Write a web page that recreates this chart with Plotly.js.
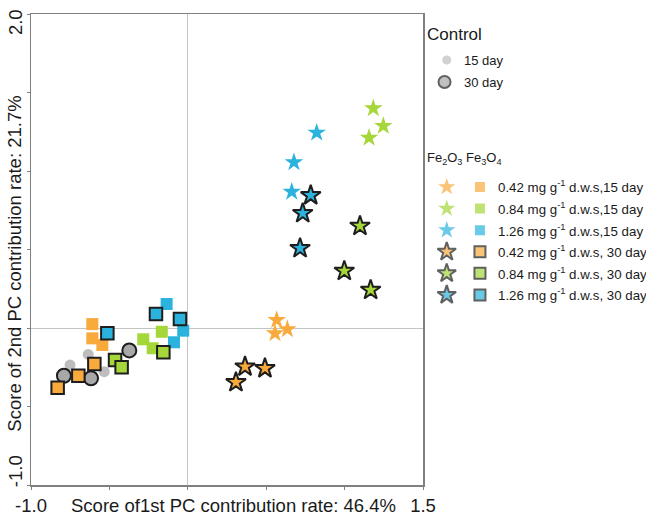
<!DOCTYPE html>
<html>
<head>
<meta charset="utf-8">
<script src="https://cdn.plot.ly/plotly-3.0.1.min.js"></script>
<style>html,body{margin:0;padding:0;background:#fff;}#chart{width:646px;height:517px;}</style>
</head>
<body>
<div id="chart"></div>
<script>
// ---- data (PC1, PC2 scores) ----
const ctrl15X = [-0.635, -0.751, -0.533];
const ctrl15Y = [-0.168, -0.236, -0.278];
const ctrl30X = [-0.790, -0.617, -0.373];
const ctrl30Y = [-0.304, -0.320, -0.143];

// Fe3O4 (squares)
const sq042d15X = [-0.609, -0.609, -0.545];
const sq042d15Y = [0.025, -0.066, -0.108];
const sq084d15X = [-0.284, -0.166, -0.224];
const sq084d15Y = [-0.072, -0.024, -0.129];
const sq126d15X = [-0.135, -0.029, -0.088];
const sq126d15Y = [0.153, -0.017, -0.091];
const sq042d30X = [-0.596, -0.698, -0.830];
const sq042d30Y = [-0.229, -0.304, -0.380];
const sq084d30X = [-0.464, -0.422, -0.156];
const sq084d30Y = [-0.204, -0.250, -0.155];
const sq126d30X = [-0.203, -0.050, -0.513];
const sq126d30Y = [0.089, 0.057, -0.034];

// Fe2O3 (stars)
const st042d15X = [0.567, 0.635, 0.556];
const st042d15Y = [0.051, -0.008, -0.034];
const st084d15X = [1.183, 1.247, 1.156];
const st084d15Y = [1.399, 1.287, 1.212];
const st126d15X = [0.822, 0.677, 0.663];
const st126d15Y = [1.244, 1.055, 0.868];
const st042d30X = [0.365, 0.492, 0.307];
const st042d30Y = [-0.246, -0.257, -0.346];
const st084d30X = [1.098, 0.998, 1.166];
const st084d30Y = [0.650, 0.363, 0.242];
const st126d30X = [0.784, 0.733, 0.716];
const st126d30Y = [0.845, 0.731, 0.508];

// axis ticks
const xTickVals = [-1.0, -0.5, 0.0, 0.5, 1.0, 1.5];
const xTickText = ['-1.0', '', '', '', '', '1.5'];
const yTickVals = [-1.0, -0.5, 0.0, 0.5, 1.0, 1.5, 2.0];
const yTickText = ['-1.0', '2.0'];

// legend text
const ctrlLabels = ['15 day', '30 day'];
const doseLabels = [
  '0.42 mg g<sup>-1</sup> d.w.s,15 day',
  '0.84 mg g<sup>-1</sup> d.w.s,15 day',
  '1.26 mg g<sup>-1</sup> d.w.s,15 day',
  '0.42 mg g<sup>-1</sup> d.w.s, 30 day',
  '0.84 mg g<sup>-1</sup> d.w.s, 30 day',
  '1.26 mg g<sup>-1</sup> d.w.s, 30 day'
];

// ---- styles ----
const ORANGE = '#F8AA3C', GREEN = '#A5D63A', CYAN = '#2BB3DD';
const GREY15 = '#BDBDBD', GREY30 = '#A8A8A8', OUT = '#1e1e1e';
const FONT = 'Liberation Sans, Arial, Helvetica, sans-serif';
const AXFS = 18.5;
const doseColors = [ORANGE, GREEN, CYAN, ORANGE, GREEN, CYAN];
const doseOutlined = [false, false, false, true, true, true];

function pts(x, y, symbol, color, size, outlined) {
  return {
    type: 'scatter', mode: 'markers', x: x, y: y, xaxis: 'x', yaxis: 'y',
    showlegend: false, hoverinfo: 'x+y',
    marker: {symbol: symbol, color: color, size: size,
      line: {color: outlined ? OUT : color, width: outlined ? 2 : 0}}
  };
}

const traces = [
  pts(ctrl15X, ctrl15Y, 'circle', GREY15, 11, false),
  pts(sq042d15X, sq042d15Y, 'square', ORANGE, 12, false),
  pts(sq084d15X, sq084d15Y, 'square', GREEN, 12, false),
  pts(sq126d15X, sq126d15Y, 'square', CYAN, 12, false),
  pts(st042d15X, st042d15Y, 'star', ORANGE, 14, false),
  pts(st084d15X, st084d15Y, 'star', GREEN, 14, false),
  pts(st126d15X, st126d15Y, 'star', CYAN, 14, false),
  pts(ctrl30X, ctrl30Y, 'circle', GREY30, 14, true),
  pts(sq042d30X, sq042d30Y, 'square', ORANGE, 12.5, true),
  pts(sq084d30X, sq084d30Y, 'square', GREEN, 12.5, true),
  pts(sq126d30X, sq126d30Y, 'square', CYAN, 12.5, true),
  pts(st042d30X, st042d30Y, 'star', ORANGE, 15, true),
  pts(st084d30X, st084d30Y, 'star', GREEN, 15, true),
  pts(st126d30X, st126d30Y, 'star', CYAN, 15, true)
];

// ---- hand-built legend on a helper axis (x2/y2) ----
// y2 units: legend rows; x2 units: columns
const rowIdx = doseLabels.map((_, i) => i);
const ctrlRows = [-5.88, -4.86];
const colStar = 0.10, colSq = 0.25, colText = 0.322, colCtrlText = 0.17, colCtrl = 0.10;

traces.push({
  type: 'scatter', mode: 'markers', xaxis: 'x2', yaxis: 'y2', showlegend: false, hoverinfo: 'skip',
  x: [colCtrl, colCtrl - 0.01], y: ctrlRows,
  marker: {symbol: 'circle', size: [9, 12], color: [GREY15, GREY30],
    line: {color: [GREY15, OUT], width: [0, 2]}}
});
rowIdx.forEach(i => {
  traces.push({
    type: 'scatter', mode: 'markers', xaxis: 'x2', yaxis: 'y2', showlegend: false, hoverinfo: 'skip',
    x: [colStar, colSq], y: [i, i],
    marker: {symbol: ['star', 'square'], size: [doseOutlined[i] ? 14 : 13, doseOutlined[i] ? 11 : 10],
      color: doseColors[i],
      line: {color: doseOutlined[i] ? OUT : doseColors[i], width: doseOutlined[i] ? 2 : 0}}
  });
});

const annotations = [
  {xref: 'paper', yref: 'paper', x: 0.33, y: -0.0425, xanchor: 'center', yanchor: 'middle',
   text: 'Score of1st PC contribution rate: 46.4%', showarrow: false,
   font: {family: FONT, size: AXFS, color: '#1a1a1a'}},
  {xref: 'paper', yref: 'paper', x: -0.026, y: 0.47, xanchor: 'center', yanchor: 'middle',
   textangle: -90, text: 'Score of 2nd PC contribution rate: 21.7%', showarrow: false,
   font: {family: FONT, size: AXFS, color: '#1a1a1a'}},
  {xref: 'x2', yref: 'y2', x: 0.0, y: -7.04, xanchor: 'left', yanchor: 'middle',
   text: 'Control', showarrow: false, font: {family: FONT, size: 17, color: '#1a1a1a'}},
  {xref: 'x2', yref: 'y2', x: 0.0, y: -1.34, xanchor: 'left', yanchor: 'middle',
   text: 'Fe<sub>2</sub>O<sub>3</sub> Fe<sub>3</sub>O<sub>4</sub>', showarrow: false,
   font: {family: FONT, size: 13, color: '#1a1a1a'}}
];
ctrlLabels.forEach((t, i) => annotations.push({
  xref: 'x2', yref: 'y2', x: colCtrlText, y: ctrlRows[i], xanchor: 'left', yanchor: 'middle',
  text: t, showarrow: false, font: {family: FONT, size: 13, color: '#1a1a1a'}
}));
doseLabels.forEach((t, i) => annotations.push({
  xref: 'x2', yref: 'y2', x: colText, y: i, xanchor: 'left', yanchor: 'middle',
  text: t, showarrow: false, font: {family: FONT, size: 13.3, color: '#1a1a1a'}
}));

const AXC = '#808080';
const layout = {
  width: 646, height: 517,
  margin: {l: 31, r: 0, t: 14, b: 32, pad: 0},
  paper_bgcolor: '#fff', plot_bgcolor: '#fff',
  font: {family: FONT, size: AXFS, color: '#1a1a1a'},
  showlegend: false,
  xaxis: {
    domain: [0, 392 / 615], range: [-1.0, 1.5], autorange: false,
    tickmode: 'array', tickvals: xTickVals, ticktext: xTickText,
    ticks: 'outside', ticklen: 3, tickcolor: AXC, tickwidth: 1,
    showline: true, linecolor: AXC, linewidth: 1.5, mirror: true,
    showgrid: false, zeroline: true, zerolinecolor: '#c4c4c4', zerolinewidth: 1,
    tickfont: {family: FONT, size: AXFS, color: '#1a1a1a'}
  },
  yaxis: {
    domain: [0, 1], range: [-1.0, 2.0], autorange: false,
    tickmode: 'array', tickvals: [yTickVals[0] + 0.07, yTickVals[yTickVals.length - 1] - 0.07],
    ticktext: yTickText, ticks: '', tickangle: -90,
    minor: {tickmode: 'array', tickvals: yTickVals, ticks: 'outside', ticklen: 3, tickcolor: AXC, tickwidth: 1, showgrid: false},
    showline: true, linecolor: AXC, linewidth: 1.5, mirror: true,
    showgrid: false, zeroline: true, zerolinecolor: '#c4c4c4', zerolinewidth: 1,
    tickfont: {family: FONT, size: AXFS, color: '#1a1a1a'}
  },
  xaxis2: {domain: [0.64, 1], range: [0, 1], visible: false, fixedrange: true, anchor: 'y2'},
  yaxis2: {domain: [0, 1], range: [13.8, -8.01], visible: false, fixedrange: true, anchor: 'x2'},
  annotations: annotations
};

Plotly.newPlot('chart', traces, layout, {displayModeBar: false, staticPlot: true});
</script>
</body>
</html>
